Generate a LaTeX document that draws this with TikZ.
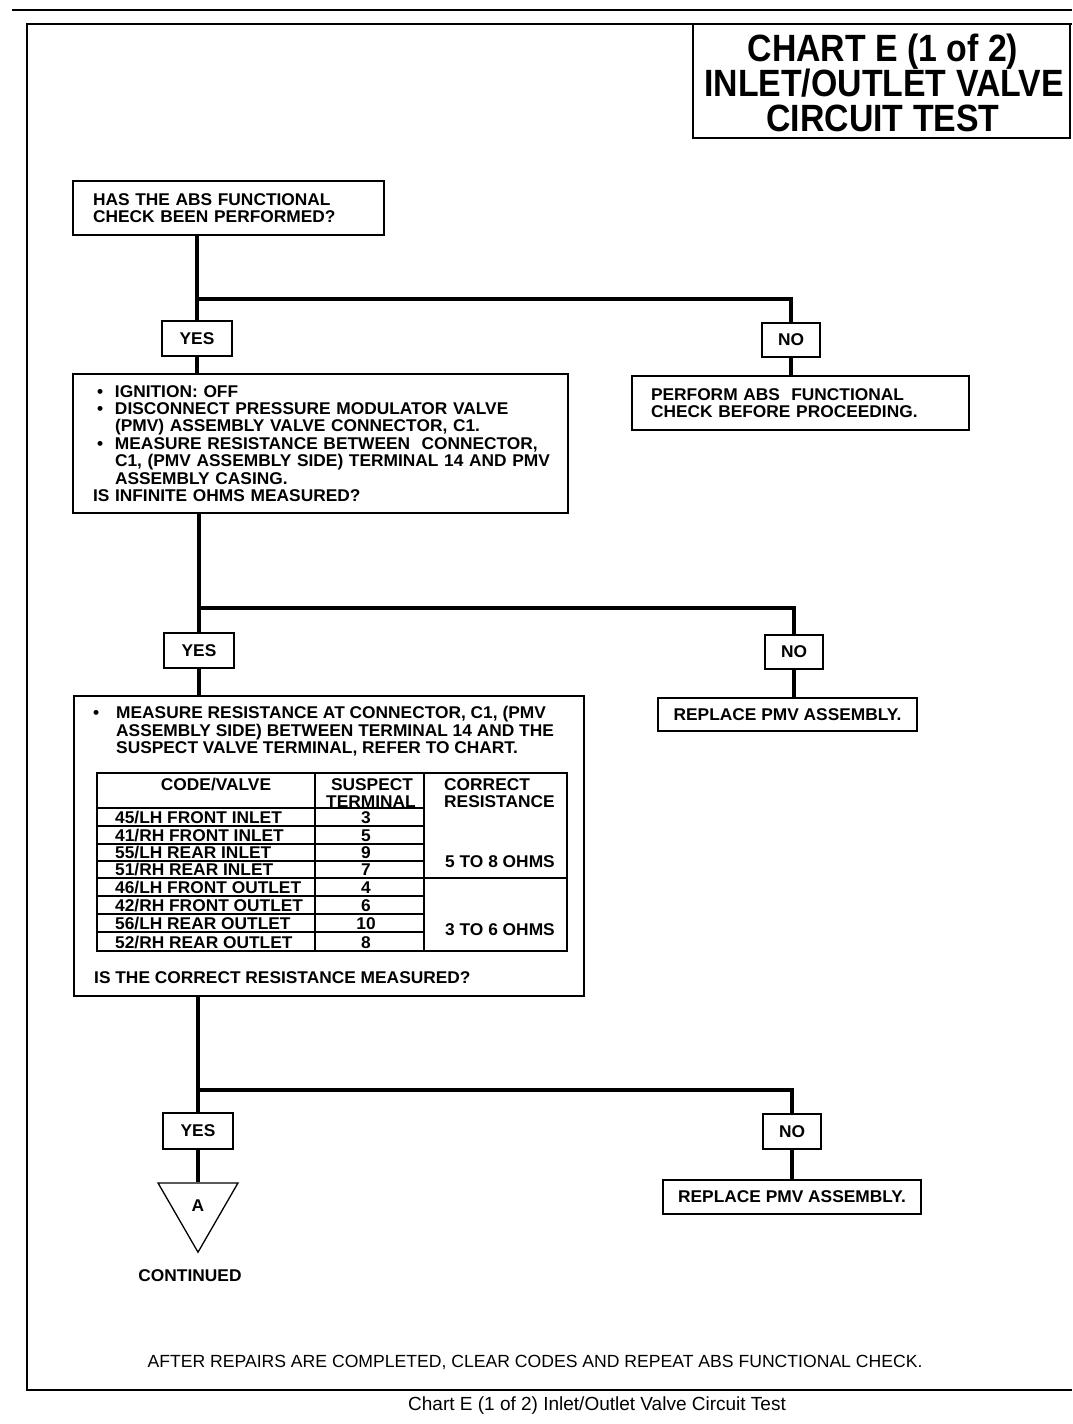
\documentclass[tikz,border=0pt]{standalone}
\usepackage{fontspec}
\setmainfont{Liberation Sans}
\newfontfamily\titlefont[FakeStretch=0.89]{Liberation Sans}
\newfontfamily\bodyfam[FakeStretch=1.02]{Liberation Sans}
\usetikzlibrary{shapes.geometric}
\newcommand{\bul}{\hspace*{4pt}\makebox[18pt][l]{\textbullet}}
\newcommand{\hind}{\hspace*{22pt}}
\begin{document}
\begin{tikzpicture}[x=1pt,y=-1pt,
  bodyfont/.style={font=\bodyfam\fontsize{17}{17.4}\selectfont\bfseries},
  box/.style={draw,line width=1.5pt,rectangle,inner ysep=0pt,bodyfont,align=left},
  ynbox/.style={draw,line width=1.5pt,rectangle,inner sep=0pt,bodyfont,minimum height=35pt},
  conn/.style={line width=4.5pt},
  tline/.style={line width=1.2pt},
  ttext/.style={bodyfont,inner sep=0pt},
  titletext/.style={inner sep=0pt,anchor=base,font=\titlefont\fontsize{38}{38}\selectfont\bfseries},
]
\useasboundingbox (0,0) rectangle (1072,1424);
% page rules and frame
\draw[line width=2.5pt] (12,10) -- (1072,10);
\draw[line width=1.5pt] (1072,24) -- (27,24) -- (27,1390) -- (1072,1390);
% title
\node[draw,line width=1.5pt,minimum width=377pt,minimum height=114pt,inner sep=0pt] (title) at (881.5,81) {};
\node[titletext] (ti1) at (883,61) {CHART E (1 of 2)};
\node[titletext] (ti2) at (884,96) {INLET/OUTLET VALVE};
\node[titletext] (ti3) at (883,131) {CIRCUIT TEST};
% boxes
\node[box,minimum width=311pt,minimum height=54pt,inner xsep=20pt,text width=271pt] (b1) at (228.5,208)
  {HAS THE ABS FUNCTIONAL\\CHECK BEEN PERFORMED?};
\node[ynbox,minimum width=70pt] (y1) at (197,338.5) {YES};
\node[ynbox,minimum width=58pt,minimum height=34pt] (n1) at (791,340) {NO};
\node[box,minimum width=495pt,minimum height=139pt,inner xsep=20pt,text width=455pt] (b2) at (320.5,443.5)
  {\bul IGNITION: OFF\\
   \bul DISCONNECT PRESSURE MODULATOR VALVE\\
   \hind(PMV) ASSEMBLY VALVE CONNECTOR, C1.\\
   \bul MEASURE RESISTANCE BETWEEN\ \ CONNECTOR,\\
   \hind\mbox{C1, (PMV ASSEMBLY SIDE) TERMINAL 14 AND PMV}\\
   \hind ASSEMBLY CASING.\\
   IS INFINITE OHMS MEASURED?};
\node[box,minimum width=337pt,minimum height=54pt,inner xsep=19pt,text width=299pt] (b3) at (800.5,403)
  {PERFORM ABS\ \ FUNCTIONAL\\CHECK BEFORE PROCEEDING.};
\node[ynbox,minimum width=70pt] (y2) at (199,650.5) {YES};
\node[ynbox,minimum width=58pt,minimum height=34pt] (n2) at (794,652) {NO};
\node[draw,line width=1.5pt,rectangle,minimum width=510pt,minimum height=300pt,inner sep=0pt] (b4) at (329,846) {};
\node[box,align=center,minimum width=259pt,minimum height=33pt,inner xsep=0pt] (b5) at (787.5,714.5) {REPLACE PMV ASSEMBLY.};
\node[ynbox,minimum width=70pt,minimum height=36pt] (y3) at (198,1131) {YES};
\node[ynbox,minimum width=58pt] (n3) at (792,1131.5) {NO};
\node[box,align=center,minimum width=258pt,minimum height=34pt,inner xsep=0pt] (b6) at (792,1197) {REPLACE PMV ASSEMBLY.};
\node[draw,line width=1.3pt,regular polygon,regular polygon sides=3,shape border rotate=180,
  minimum size=92.4pt,inner sep=0pt,bodyfont] (tri) at (198,1206) {A};
\node[ttext] (cont) at (190,1276) {CONTINUED};
% box 4 contents
\node[ttext,anchor=base west] (t41) at (93,718) {\textbullet};
\node[ttext,anchor=base west] (t42) at (116,718) {MEASURE RESISTANCE AT CONNECTOR, C1, (PMV};
\node[ttext,anchor=base west] (t43) at (116,736) {ASSEMBLY SIDE) BETWEEN TERMINAL 14 AND THE};
\node[ttext,anchor=base west] (t44) at (116,753) {SUSPECT VALVE TERMINAL, REFER TO CHART.};
\node[ttext,anchor=base west] (t45) at (94,983) {IS THE CORRECT RESISTANCE MEASURED?};
% table
\draw[tline] (97,773) rectangle (567,951);
\draw[tline] (315,773) -- (315,951) (424,773) -- (424,951);
\foreach \yy in {808,826,844,861,896,914,932} \draw[tline] (97,\yy) -- (424,\yy);
\draw[tline] (97,878) -- (567,878);
\node[ttext,anchor=base] (h1) at (216,790) {CODE/VALVE};
\node[ttext,anchor=base] (h2) at (372,790) {SUSPECT};
\node[ttext,anchor=base] (h3) at (371,807) {TERMINAL};
\node[ttext,anchor=base west] (h4) at (444,790) {CORRECT};
\node[ttext,anchor=base west] (h5) at (444,807) {RESISTANCE};
\foreach \yy/\cv/\tm [count=\i] in {823/45\slash LH FRONT INLET/3, 841/41\slash RH FRONT INLET/5,
   858/55\slash LH REAR INLET/9, 875/51\slash RH REAR INLET/7, 893/46\slash LH FRONT OUTLET/4,
   911/42\slash RH FRONT OUTLET/6, 929/56\slash LH REAR OUTLET/10, 948/52\slash RH REAR OUTLET/8}{
  \node[ttext,anchor=base west] (r\i) at (115,\yy) {\cv};
  \node[ttext,anchor=base] (s\i) at (366,\yy) {\tm};
}
\node[ttext,anchor=base] (g1) at (500,867) {5 TO 8 OHMS};
\node[ttext,anchor=base] (g2) at (500,935) {3 TO 6 OHMS};
% connectors
\coordinate (j1) at (y1.north |- 0,299);
\coordinate (j2) at (y2.north |- 0,608);
\coordinate (j3) at (y3.north |- 0,1090);
\draw[conn] (y1.north |- b1.south) -- (y1.north);
\draw[conn] (j1) -| (n1.north);
\draw[conn] (y1.south) -- (y1.south |- b2.north);
\draw[conn] (n1.south) -- (n1.south |- b3.north);
\draw[conn] (y2.north |- b2.south) -- (y2.north);
\draw[conn] (j2) -| (n2.north);
\draw[conn] (y2.south) -- (y2.south |- b4.north);
\draw[conn] (n2.south) -- (n2.south |- b5.north);
\draw[conn] (y3.north |- b4.south) -- (y3.north);
\draw[conn] (j3) -| (n3.north);
\draw[conn] (y3.south) -- (y3.south |- tri.north);
\draw[conn] (n3.south) -- (n3.south |- b6.north);
% footer
\node[inner sep=0pt,anchor=base,font=\fontsize{17.6}{17.6}\selectfont] (foot) at (535,1367)
  {AFTER REPAIRS ARE COMPLETED, CLEAR CODES AND REPEAT ABS FUNCTIONAL CHECK.};
\node[inner sep=0pt,anchor=base,font=\fontsize{19}{19}\selectfont] (cap) at (597,1410)
  {Chart E (1 of 2) Inlet/Outlet Valve Circuit Test};
\end{tikzpicture}
\end{document}
